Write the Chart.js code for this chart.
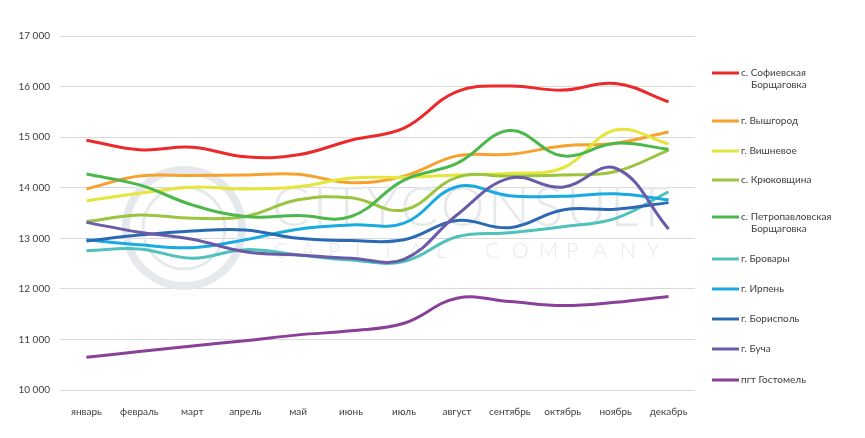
<!DOCTYPE html>
<html>
<head>
<meta charset="utf-8">
<script src="https://cdn.jsdelivr.net/npm/chart.js@4"></script>
<style>
html,body{margin:0;padding:0;background:#fff;}
#wrap{position:relative;width:865px;height:438px;}
</style>
</head>
<body>
<div id="wrap"><canvas id="c" width="865" height="438"></canvas></div>
<script>
const months = ['январь','февраль','март','апрель','май','июнь','июль','август','сентябрь','октябрь','ноябрь','декабрь'];
const yTicks = [10000,11000,12000,13000,14000,15000,16000,17000];

const sofievskaya   = [14940,14750,14800,14610,14650,14940,15180,15900,16010,15930,16060,15700];
const vyshgorod     = [13975,14230,14240,14250,14265,14100,14230,14630,14660,14825,14880,15100];
const vishnevoe     = [13740,13890,14010,13975,14020,14190,14205,14250,14285,14390,15140,14865];
const kryukovshchina= [13330,13460,13395,13430,13760,13800,13560,14205,14230,14250,14320,14745];
const petropavl     = [14270,14055,13660,13430,13450,13430,14150,14480,15130,14630,14880,14760];
const brovary       = [12755,12790,12605,12775,12670,12570,12540,13030,13110,13230,13395,13920];
const irpen         = [12970,12870,12815,12970,13180,13265,13300,14020,13840,13830,13880,13760];
const boryspil      = [12945,13065,13145,13165,13000,12955,12970,13350,13210,13560,13575,13705];
const bucha         = [13315,13120,12980,12735,12670,12605,12585,13460,14190,14010,14385,13185];
const gostomel      = [10648,10760,10870,10975,11090,11170,11320,11815,11750,11670,11735,11850];

const seriesNames = [['с. Софиевская','Борщаговка'],['г. Вышгород'],['г. Вишневое'],['с. Крюковщина'],['с. Петропавловская','Борщаговка'],['г. Бровары'],['г. Ирпень'],['г. Борисполь'],['г. Буча'],['пгт Гостомель']];
const seriesData = [sofievskaya,vyshgorod,vishnevoe,kryukovshchina,petropavl,brovary,irpen,boryspil,bucha,gostomel];
const seriesColors = ['#EC2A2B','#F7A12F','#E6E63A','#9BC43F','#4CB84B','#4FC2BC','#1AAAE2','#2B6AB3','#6A5BA9','#8A3F98'];
const legendY = [73,121,151,180,217,259,289,319,349,380];

const datasets = seriesData.map((d,i)=>({
  label: seriesNames[i].join(' '),
  data: d,
  borderColor: seriesColors[i],
  backgroundColor: seriesColors[i],
  borderWidth: 3,
  pointRadius: 0,
  tension: 0.4,
  fill: false
})).reverse();

const FONT = 'Lato, "Open Sans", sans-serif';

const watermark = {
  id:'watermark',
  beforeDatasetsDraw(chart){
    const ctx = chart.ctx;
    ctx.save();
    ctx.strokeStyle = '#e6e9eb';
    ctx.lineWidth = 8;
    ctx.beginPath(); ctx.arc(184,228,58,0,Math.PI*2); ctx.stroke();
    ctx.lineWidth = 3;
    ctx.beginPath(); ctx.arc(184,228,41,0,Math.PI*2); ctx.stroke();
    ctx.fillStyle = '#e6e9eb';
    ctx.font = '300 56px Lato, "Open Sans", sans-serif';
    ctx.textBaseline = 'alphabetic';
    ctx.textAlign = 'left';
    try { ctx.letterSpacing = '3px'; } catch(e) {}
    ctx.fillText('CITYCONSULT', 272, 226);
    try { ctx.letterSpacing = '0px'; } catch(e) {}
    ctx.font = '300 21px Lato, "Open Sans", sans-serif';
    const s = 'CAPITAL COMPANY';
    let x = 274;
    for (const ch of s){ ctx.fillText(ch, x, 258); x += ch===' ' ? 22 : 27; }
    ctx.restore();
  }
};

const customLegend = {
  id:'customLegend',
  afterDraw(chart){
    const ctx = chart.ctx;
    ctx.save();
    ctx.font = '10px ' + FONT;
    ctx.textBaseline = 'middle';
    ctx.textAlign = 'left';
    seriesNames.forEach((lines,i)=>{
      const y = legendY[i];
      ctx.strokeStyle = seriesColors[i];
      ctx.lineWidth = 3;
      ctx.beginPath(); ctx.moveTo(712,y); ctx.lineTo(739,y); ctx.stroke();
      ctx.fillStyle = '#404040';
      ctx.fillText(lines[0], 741, y);
      if (lines[1]) ctx.fillText(lines[1], 751, y + 11.5);
    });
    ctx.restore();
  }
};

new Chart(document.getElementById('c'), {
  type:'line',
  data:{labels:months, datasets},
  options:{
    responsive:false,
    animation:false,
    layout:{padding:{left:0,right:170,top:36,bottom:0}},
    plugins:{legend:{display:false},tooltip:{enabled:false}},
    scales:{
      x:{
        offset:true,
        grid:{display:false},
        border:{display:false},
        ticks:{color:'#404040',font:{family:FONT,size:10},padding:8,maxRotation:0,autoSkip:false},
        afterFit(s){ s.height = 48; }
      },
      y:{
        min:10000,max:17000,
        afterBuildTicks(s){ s.ticks = yTicks.map(v=>({value:v})); },
        grid:{color:'#d9d9d9',lineWidth:1,drawTicks:false},
        border:{display:false},
        ticks:{color:'#404040',font:{family:FONT,size:10},padding:10,
          callback:v=>String(v).replace(/\B(?=(\d{3})+(?!\d))/g,' ')},
        afterFit(s){ s.width = 60; }
      }
    }
  },
  plugins:[watermark, customLegend]
});
</script>
</body>
</html>
